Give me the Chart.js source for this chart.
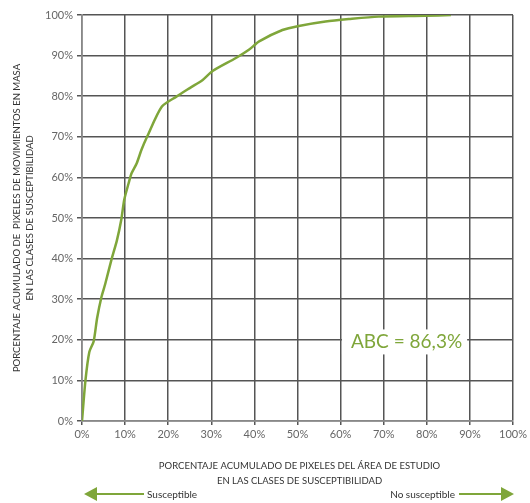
<!DOCTYPE html>
<html>
<head>
<meta charset="utf-8">
<script src="https://cdn.jsdelivr.net/npm/chart.js@4"></script>
<style>
  html, body { margin: 0; padding: 0; background: #fff; }
  #grafico { display: block; }
</style>
</head>
<body>
<canvas id="grafico" width="530" height="503"></canvas>
<script>
// porcentaje acumulado de pixeles del área de estudio (eje x)
const areaAcumulada = [0, 0.8, 1.7, 2.7, 3.5, 4.5, 5.4, 6.9, 8.1, 9.1, 9.8, 10.8, 11.5, 12.7, 13.8, 15.1, 18.5, 21.9, 25.0, 28.0, 30.3, 35.7, 38.8, 41.1, 46.5, 50.3, 56.5, 61.9, 68.8, 79.6, 85.6];
// porcentaje acumulado de pixeles de movimientos en masa (eje y)
const movimientosAcumulados = [0, 10, 17, 19.6, 25.3, 30.5, 33.8, 40, 44.5, 49.5, 54.5, 58.5, 61, 63.5, 66.8, 70, 77.4, 79.9, 82, 84, 86.2, 89.4, 91.5, 93.5, 96.3, 97.3, 98.4, 99, 99.6, 99.8, 100];

const tituloX = ["PORCENTAJE ACUMULADO DE PIXELES DEL ÁREA DE ESTUDIO", "EN LAS CLASES DE SUSCEPTIBILIDAD"];
const tituloY = ["PORCENTAJE ACUMULADO DE  PIXELES DE MOVIMIENTOS EN MASA", "EN LAS CLASES DE SUSCEPTIBILIDAD"];
const textoAbc = "ABC = 86,3%";
const textoIzq = "Susceptible";
const textoDer = "No susceptible";

const VERDE = "#7fa63a";
const FUENTE = "Lato, 'Open Sans', sans-serif";

const textos = {
    id: "textos",
    afterDatasetsDraw(chart) {
        const ctx = chart.ctx;
        const x = chart.scales.x;
        const y = chart.scales.y;
        ctx.save();
        // área bajo la curva, sobre fondo blanco
        ctx.font = "19px " + FUENTE;
        const ax = x.getPixelForValue(62.4);
        const ay = y.getPixelForValue(19.6);
        const ancho = ctx.measureText(textoAbc).width;
        ctx.fillStyle = "#fff";
        ctx.fillRect(ax - 9, ay - 12, ancho + 14, 25);
        ctx.fillStyle = VERDE;
        ctx.textAlign = "left";
        ctx.textBaseline = "middle";
        ctx.fillText(textoAbc, ax, ay);
        ctx.restore();
    },
    afterDraw(chart) {
        const ctx = chart.ctx;
        const area = chart.chartArea;
        ctx.save();
        ctx.textBaseline = "middle";

        // título eje x
        ctx.fillStyle = "#333";
        ctx.font = "9.5px " + FUENTE;
        ctx.textAlign = "center";
        const cx = (area.left + area.right) / 2 + 2;
        ctx.fillText(tituloX[0], cx, 466);
        ctx.fillText(tituloX[1], cx, 481);

        // título eje y
        ctx.translate(0, (area.top + area.bottom) / 2);
        ctx.rotate(-Math.PI / 2);
        ctx.fillText(tituloY[0], 0, 17);
        ctx.fillText(tituloY[1], 0, 30);
        ctx.setTransform(1, 0, 0, 1, 0, 0);

        // flechas
        const yf = 494;
        ctx.strokeStyle = VERDE;
        ctx.fillStyle = VERDE;
        ctx.lineWidth = 2;
        ctx.beginPath();
        ctx.moveTo(92, yf); ctx.lineTo(144, yf);
        ctx.moveTo(459, yf); ctx.lineTo(502, yf);
        ctx.stroke();
        ctx.beginPath();
        ctx.moveTo(84, yf); ctx.lineTo(97, yf - 7); ctx.lineTo(97, yf + 7); ctx.closePath();
        ctx.moveTo(514, yf); ctx.lineTo(501, yf - 7); ctx.lineTo(501, yf + 7); ctx.closePath();
        ctx.fill();

        ctx.fillStyle = "#333";
        ctx.font = "10px " + FUENTE;
        ctx.textAlign = "left";
        ctx.fillText(textoIzq, 147, yf + 1);
        ctx.textAlign = "right";
        ctx.fillText(textoDer, 455, yf + 1);
        ctx.restore();
    }
};

const ctx = document.querySelector("#grafico");
new Chart(ctx, {
    type: "scatter",
    data: {
        datasets: [{
            data: areaAcumulada.map((v, i) => ({ x: v, y: movimientosAcumulados[i] })),
            showLine: true,
            borderColor: VERDE,
            borderWidth: 2.5,
            pointRadius: 0,
            tension: 0.25
        }]
    },
    options: {
        responsive: false,
        animation: false,
        layout: { padding: { top: 15, right: 13, left: 0, bottom: 0 } },
        plugins: { legend: { display: false }, tooltip: { enabled: false } },
        scales: {
            x: {
                type: "linear",
                min: 0, max: 100,
                ticks: {
                    stepSize: 10,
                    color: "#666",
                    font: { family: FUENTE, size: 11 },
                    padding: 3,
                    maxRotation: 0,
                    callback: v => v + "%"
                },
                grid: { color: "#555", lineWidth: 1.5, tickLength: 4 },
                border: { color: "#888", width: 1.5 },
                afterFit: s => { s.height = 82; }
            },
            y: {
                min: 0, max: 100,
                ticks: {
                    stepSize: 10,
                    color: "#666",
                    font: { family: FUENTE, size: 11 },
                    padding: 4,
                    callback: v => v + "%"
                },
                grid: { color: "#555", lineWidth: 1.5, tickLength: 5 },
                border: { color: "#888", width: 1.5 },
                afterFit: s => { s.width = 82; }
            }
        }
    },
    plugins: [textos]
});
</script>
</body>
</html>
